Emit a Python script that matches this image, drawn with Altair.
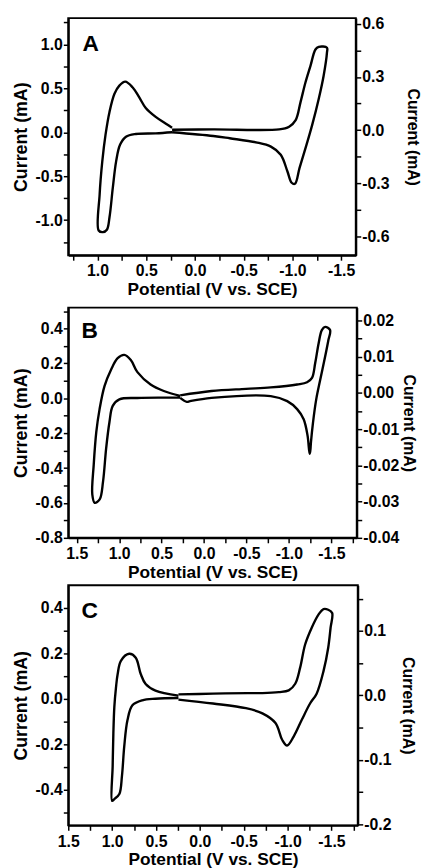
import altair as alt
import pandas as pd

FONT = "Liberation Sans"

# ---------------- Panel A ----------------
A_LEFT_E = [0.235, 0.302, 0.403, 0.505, 0.573, 0.641, 0.715, 0.776, 0.826, 0.877, 0.918, 0.951,
            0.978, 0.988, 0.945, 0.904, 0.877, 0.843, 0.809, 0.769, 0.708, 0.606, 0.403, 0.235]
A_LEFT_I = [0.052, 0.10, 0.175, 0.277, 0.40, 0.513, 0.577, 0.532, 0.438, 0.232, -0.03, -0.331,
            -0.705, -1.118, -1.137, -1.11, -0.968, -0.631, -0.331, -0.143, -0.05, -0.019, -0.012, 0.0]
A_RIGHT_E = [0.235, -0.188, -0.864, -0.966, -1.033, -1.083, -1.134, -1.185, -1.236, -1.27, -1.354,
             -1.354, -1.32, -1.27, -1.202, -1.134, -1.073, -1.026, -0.992, -0.948, -0.88, -0.779,
             -0.627, -0.357, -0.188, 0.235]
A_RIGHT_I = [0.002, 0.004, 0.004, 0.019, 0.056, 0.158, 0.27, 0.363, 0.455, 0.47, 0.465,
             0.437, 0.307, 0.177, 0.028, -0.102, -0.213, -0.303, -0.297, -0.232, -0.139, -0.093,
             -0.069, -0.046, -0.033, -0.012]

# ---------------- Panel B ----------------
B_LEFT_E = [0.281, 0.474, 0.63, 0.785, 0.863, 0.94, 1.018, 1.096, 1.173, 1.231, 1.27, 1.30, 1.317,
            1.289, 1.23, 1.19, 1.154, 1.115, 1.076, 0.998, 0.785, 0.474, 0.281]
B_LEFT_I = [0.014, 0.042, 0.079, 0.15, 0.22, 0.249, 0.23, 0.164, 0.07, -0.062, -0.194, -0.38, -0.551,
            -0.599, -0.58, -0.476, -0.288, -0.137, -0.043, -0.006, 0.002, 0.004, 0.004]
B_RIGHT_E = [0.281, -0.088, -0.495, -0.786, -1.097, -1.214, -1.272, -1.31, -1.35, -1.388, -1.427,
             -1.485, -1.465, -1.427, -1.369, -1.322, -1.284, -1.26, -1.252, -1.244, -1.22, -1.174,
             -1.097, -0.98, -0.786, -0.088, 0.165, 0.203, 0.281]
B_RIGHT_I = [-0.0007, 0.0005, 0.0011, 0.0015, 0.0023, 0.0029, 0.0041, 0.0082, 0.0136, 0.0173, 0.0182,
             0.0173, 0.0145, 0.010, 0.0036, -0.0018, -0.0082, -0.0136, -0.0160, -0.0168, -0.0118, -0.0073,
             -0.0045, -0.0023, -0.0009, -0.0014, -0.0023, -0.0025, -0.0014]

# ---------------- Panel C ----------------
C_LEFT_E = [0.244, 0.506, 0.618, 0.674, 0.731, 0.806, 0.9, 0.937, 0.956, 0.975, 0.986, 0.994, 1.0,
            0.975, 0.918, 0.888, 0.862, 0.825, 0.769, 0.656, 0.506, 0.244]
C_LEFT_I = [0.014, 0.036, 0.065, 0.109, 0.181, 0.198, 0.167, 0.109, 0.05, -0.037, -0.152, -0.297, -0.45,
            -0.442, -0.42, -0.34, -0.21, -0.094, -0.029, -0.007, 0.0, 0.003]
C_RIGHT_E = [0.244, -0.15, -0.544, -0.713, -0.9, -1.013, -1.087, -1.143, -1.2, -1.275, -1.35, -1.41,
             -1.463, -1.508, -1.49, -1.463, -1.41, -1.331, -1.256, -1.162, -1.069, -0.994, -0.938,
             -0.862, -0.713, -0.525, -0.15, 0.244]
C_RIGHT_I = [0.0015, 0.0026, 0.0035, 0.0035, 0.005, 0.0077, 0.018, 0.043, 0.079, 0.105, 0.125, 0.134,
             0.133, 0.128, 0.105, 0.074, 0.038, 0.0026, -0.0127, -0.038, -0.064, -0.078, -0.069,
             -0.043, -0.028, -0.02, -0.0127, -0.0066]

# ---------------- Axes ----------------
A_X_TICKS = [1.25, 1.0, 0.75, 0.5, 0.25, 0.0, -0.25, -0.5, -0.75, -1.0, -1.25, -1.5]
BC_X_TICKS = [1.5, 1.25, 1.0, 0.75, 0.5, 0.25, 0.0, -0.25, -0.5, -0.75, -1.0, -1.25, -1.5, -1.75]
X_MAJOR = [1.5, 1.0, 0.5, 0.0, -0.5, -1.0, -1.5]

A_L_TICKS = [1.25, 1.0, 0.75, 0.5, 0.25, 0.0, -0.25, -0.5, -0.75, -1.0, -1.25]
A_L_MAJOR = [1.0, 0.5, 0.0, -0.5, -1.0]
A_R_TICKS = [0.6, 0.45, 0.3, 0.15, 0.0, -0.15, -0.3, -0.45, -0.6]
A_R_MAJOR = [0.6, 0.3, 0.0, -0.3, -0.6]

B_L_TICKS = [0.5, 0.4, 0.3, 0.2, 0.1, 0.0, -0.1, -0.2, -0.3, -0.4, -0.5, -0.6, -0.7, -0.8]
B_L_MAJOR = [0.4, 0.2, 0.0, -0.2, -0.4, -0.6, -0.8]
B_R_TICKS = [0.02, 0.015, 0.01, 0.005, 0.0, -0.005, -0.01, -0.015, -0.02, -0.025, -0.03, -0.035, -0.04]
B_R_MAJOR = [0.02, 0.01, 0.0, -0.01, -0.02, -0.03, -0.04]

C_L_TICKS = [0.4, 0.3, 0.2, 0.1, 0.0, -0.1, -0.2, -0.3, -0.4, -0.5]
C_L_MAJOR = [0.4, 0.2, 0.0, -0.2, -0.4]
C_R_TICKS = [0.15, 0.1, 0.05, 0.0, -0.05, -0.1, -0.15, -0.2]
C_R_MAJOR = [0.1, 0.0, -0.1, -0.2]


def loop_df(E, I):
    return pd.DataFrame({"E": E, "I": I, "k": list(range(len(E)))})


def label_expr(majors, fmt):
    arr = ",".join(repr(v) for v in majors)
    return (f"indexof([{arr}], datum.value) >= 0 ? "
            f"replace(format(datum.value, '{fmt}'), '\u2212', '-') : ''")


def panel(letter, letter_pos, xdom, xticks, ldom, lticks, lmaj, lfmt, rdom, rticks, rmaj, rfmt,
          LE, LI, RE, RI, w, h, rpad):
    xscale = alt.Scale(domain=xdom, reverse=True, nice=False, zero=False)
    xaxis = alt.Axis(values=xticks, labelExpr=label_expr(X_MAJOR, ".1f"),
                     title="Potential (V vs. SCE)", orient="bottom")
    lscale = alt.Scale(domain=ldom, nice=False, zero=False)
    rscale = alt.Scale(domain=rdom, nice=False, zero=False)
    line = dict(color="black", strokeWidth=2.4, interpolate="catmull-rom")
    left = alt.Chart(loop_df(LE, LI)).mark_line(**line).encode(
        x=alt.X("E:Q", scale=xscale, axis=xaxis),
        y=alt.Y("I:Q", scale=lscale,
                axis=alt.Axis(orient="left", values=lticks, labelExpr=label_expr(lmaj, lfmt),
                              title="Current (mA)", titleFontSize=18, titlePadding=5)),
        order="k:Q",
    )
    right = alt.Chart(loop_df(RE, RI)).mark_line(**line).encode(
        x=alt.X("E:Q", scale=xscale, axis=xaxis),
        y=alt.Y("I:Q", scale=rscale,
                axis=alt.Axis(orient="right", values=rticks, labelExpr=label_expr(rmaj, rfmt),
                              title="Current (mA)", titleFontSize=16, titlePadding=rpad)),
        order="k:Q",
    )
    txt = alt.Chart(pd.DataFrame({"E": [letter_pos[0]], "I": [letter_pos[1]], "t": [letter]})).mark_text(
        font=FONT, fontSize=23, fontWeight="bold", align="left", baseline="alphabetic", color="black"
    ).encode(
        x=alt.X("E:Q", scale=xscale, axis=xaxis),
        y=alt.Y("I:Q", scale=lscale, axis=None),
        text="t:N",
    )
    return alt.layer(left, right, txt).resolve_scale(y="independent").properties(width=w, height=h)


pA = panel("A", (1.154, 0.93), [-1.65, 1.3], A_X_TICKS,
           [-1.4, 1.3], A_L_TICKS, A_L_MAJOR, ".1f",
           [-0.706, 0.632], A_R_TICKS, A_R_MAJOR, ".1f",
           A_LEFT_E, A_LEFT_I, A_RIGHT_E, A_RIGHT_I, 291, 240, 16)
pB = panel("B", (1.445, 0.343), [-1.8, 1.6], BC_X_TICKS,
           [-0.8, 0.52], B_L_TICKS, B_L_MAJOR, ".1f",
           [-0.04, 0.0235], B_R_TICKS, B_R_MAJOR, ".2f",
           B_LEFT_E, B_LEFT_I, B_RIGHT_E, B_RIGHT_I, 292, 233, 2)
pC = panel("C", (1.349, 0.355), [-1.8, 1.5], BC_X_TICKS,
           [-0.558, 0.5], C_L_TICKS, C_L_MAJOR, ".1f",
           [-0.202, 0.171], C_R_TICKS, C_R_MAJOR, ".1f",
           C_LEFT_E, C_LEFT_I, C_RIGHT_E, C_RIGHT_I, 293, 243, 9)

chart = alt.vconcat(pA, pB, pC, spacing=2).configure_view(
    stroke="black", strokeWidth=2
).configure_axis(
    labelFont=FONT, labelFontSize=16, labelFontWeight="bold", labelColor="black",
    titleFont=FONT, titleFontSize=17.5, titleFontWeight="bold", titleColor="black",
    domainColor="black", domainWidth=2, tickColor="black", tickWidth=1.5, tickSize=5,
    grid=False, labelFlush=False, labelOverlap=False,
).configure_axisX(
    labelPadding=3, titlePadding=2,
).configure_axisY(
    labelPadding=1,
).properties(
    padding={"left": 3, "right": 0, "top": 0, "bottom": 0}
)

chart.save("out.html", embed_options={"renderer": "svg", "actions": False})
